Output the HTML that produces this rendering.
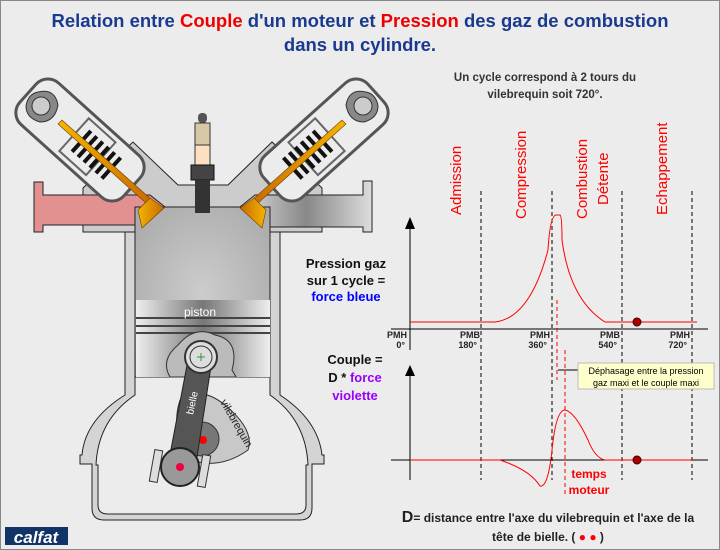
<!DOCTYPE html>
<html><head><meta charset="utf-8"><style>
body{margin:0;background:#ececec}
svg{display:block}
text{font-family:"Liberation Sans",Verdana,sans-serif}
</style></head><body>
<svg width="720" height="550" viewBox="0 0 720 550" xmlns="http://www.w3.org/2000/svg">
<defs>
<linearGradient id="pg" x1="0" x2="1"><stop offset="0" stop-color="#eee"/><stop offset=".5" stop-color="#777"/><stop offset="1" stop-color="#eee"/></linearGradient>
<radialGradient id="cyl" cx=".5" cy=".5" r=".7"><stop offset="0" stop-color="#ccc"/><stop offset="1" stop-color="#a8a8a8"/></radialGradient>
<linearGradient id="ex" x1="0" x2="1"><stop offset="0" stop-color="#ddd"/><stop offset=".5" stop-color="#888"/><stop offset="1" stop-color="#ddd"/></linearGradient>
<linearGradient id="valve" x1="0" x2="1"><stop offset="0" stop-color="#f5b400"/><stop offset="1" stop-color="#c86a00"/></linearGradient>
</defs>
<rect x="0.5" y="0.5" width="719" height="549" fill="#ececec" stroke="#888"/>

<text x="360" y="27" text-anchor="middle" font-size="18.5" font-weight="bold" fill="#1a3a90">Relation entre <tspan fill="#e00">Couple</tspan> d'un moteur et <tspan fill="#e00">Pression</tspan> des gaz de combustion</text>
<text x="360" y="51" text-anchor="middle" font-size="18.5" font-weight="bold" fill="#1a3a90">dans un cylindre.</text>

<!-- engine head -->
<polygon points="83,188 133,142 178,185 228,185 272,142 322,188 322,232 83,232" fill="#ccc" stroke="#222"/>
<path d="M34,182 L43,182 L43,195 L150,195 L165,207 L150,225 L43,225 L43,232 L34,232Z" fill="#e29090" stroke="#222"/>
<path d="M372,181 L363,181 L363,195 L255,195 L240,207 L265,227 L363,227 L363,232 L372,232Z" fill="url(#ex)" stroke="#222"/>
<path d="M125,232 L125,395 Q85,420 82,455 L80,455 L80,464 L92,464 L92,508 Q92,520 104,520 L300,520 Q312,520 312,508 L312,464 L324,464 L324,455 L322,455 Q318,420 280,395 L280,232 L265,232 L265,228 L140,228 L140,232Z" fill="#d4d4d4" stroke="#222"/>
<path d="M135,376 L135,395 Q98,420 96,465 L98,465 L98,505 Q98,514 108,514 L296,514 Q306,514 306,505 L306,465 L308,465 Q306,420 270,395 L270,376Z" fill="#ececec" stroke="#222"/>
<rect x="135" y="207" width="135" height="170" fill="url(#cyl)" stroke="#222"/>
<rect x="136" y="300" width="134" height="77" fill="url(#pg)"/>
<line x1="136" y1="318" x2="270" y2="318" stroke="#444" stroke-width="2"/>
<line x1="136" y1="326" x2="270" y2="326" stroke="#444" stroke-width="2"/>
<line x1="136" y1="333" x2="270" y2="333" stroke="#444" stroke-width="2"/>
<text x="200" y="316" text-anchor="middle" font-size="12" fill="#fff">piston</text>
<path d="M178,345 Q195,325 215,335 Q240,340 232,370 L236,377 L170,377 Q160,360 178,345Z" fill="#bbb" stroke="#333"/>
<path d="M180,400 Q200,385 225,405 Q255,430 248,450 Q220,470 190,460 Q170,430 180,400Z" fill="#c8c8c8" stroke="#333"/>
<circle cx="202" cy="439" r="17" fill="#777" stroke="#333"/>
<circle cx="203" cy="440" r="4" fill="#f00"/>
<text x="220" y="402" font-size="11" fill="#222" transform="rotate(60 220 402)">vilebrequin</text>
<polygon points="188,360 212,360 195,470 168,465" fill="#555" stroke="#222"/>
<text x="193" y="415" font-size="10" fill="#fff" transform="rotate(-78 193 415)">bielle</text>
<circle cx="201" cy="357" r="16" fill="#ddd" stroke="#333" stroke-width="2"/>
<circle cx="201" cy="357" r="11" fill="#ddd" stroke="#333"/>
<path d="M197,357 h8 M201,353 v8" stroke="#393"/>
<rect x="152" y="450" width="8" height="32" fill="#ddd" stroke="#333" transform="rotate(10 156 466)"/>
<rect x="200" y="455" width="8" height="32" fill="#ddd" stroke="#333" transform="rotate(10 204 471)"/>
<circle cx="180" cy="467" r="19" fill="#999" stroke="#222" stroke-width="2"/>
<circle cx="180" cy="467" r="4" fill="#e04"/>

<g id="vg">
<g transform="rotate(42 80 140)">
<rect x="10" y="112" width="140" height="56" rx="16" fill="#ececec" stroke="#555" stroke-width="3"/>
<rect x="72" y="118" width="36" height="44" fill="none" stroke="#666" stroke-width="2"/>
<g stroke="#111" stroke-width="4">
<line x1="82" y1="126" x2="82" y2="154"/><line x1="90" y1="126" x2="90" y2="154"/><line x1="98" y1="126" x2="98" y2="154"/><line x1="106" y1="126" x2="106" y2="154"/><line x1="114" y1="126" x2="114" y2="154"/><line x1="122" y1="126" x2="122" y2="154"/>
</g>
</g>
<path d="M38,92 Q55,88 58,105 Q55,122 40,122 Q26,118 26,106 Q28,94 38,92Z" fill="#888" stroke="#333"/>
<circle cx="41" cy="106" r="9" fill="#ccc" stroke="#333"/>
<polygon points="58,124 62,120 152,200 147,204" fill="url(#valve)" stroke="#6a4000" stroke-width=".6"/>
<polygon points="138,210 150,198 164,208 142,228" fill="url(#valve)" stroke="#6a4000" stroke-width=".6"/>
</g>
<use href="#vg" transform="translate(404,0) scale(-1,1)"/>

<rect x="198" y="113" width="9" height="10" rx="4" fill="#555"/>
<rect x="195" y="123" width="15" height="25" fill="#d8c8a8" stroke="#333"/>
<rect x="195" y="145" width="15" height="20" fill="#fde0c0" stroke="#333"/>
<rect x="191" y="165" width="23" height="15" fill="#444" stroke="#111"/>
<rect x="195" y="180" width="15" height="33" fill="#333"/>

<rect x="5" y="527" width="63" height="18" fill="#136"/>
<text x="36" y="543" text-anchor="middle" font-size="17" font-style="italic" font-weight="bold" fill="#fff">calfat</text>

<text x="545" y="81" text-anchor="middle" font-size="11.5" font-weight="bold" fill="#333">Un cycle correspond à 2 tours du</text>
<text x="545" y="98" text-anchor="middle" font-size="11.5" font-weight="bold" fill="#333">vilebrequin soit 720°.</text>
<g font-size="13" font-weight="bold" text-anchor="middle">
<text x="346" y="268" fill="#111">Pression gaz</text>
<text x="346" y="285" fill="#111">sur 1 cycle =</text>
<text x="346" y="301" fill="#00f">force bleue</text>
<text x="355" y="364" fill="#111">Couple =</text>
<text x="355" y="382" fill="#111">D * <tspan fill="#90f">force</tspan></text>
<text x="355" y="400" fill="#90f">violette</text>
</g>
<g font-size="15" fill="#f00">
<text transform="translate(461,215) rotate(-90)">Admission</text>
<text transform="translate(526,219) rotate(-90)">Compression</text>
<text transform="translate(587,219) rotate(-90)">Combustion</text>
<text transform="translate(608,205) rotate(-90)">Détente</text>
<text transform="translate(667,215) rotate(-90)">Echappement</text>
</g>

<g stroke="#000" stroke-dasharray="4,3" fill="none">
<line x1="481" y1="191" x2="481" y2="480"/><line x1="552" y1="191" x2="552" y2="480"/>
<line x1="622" y1="191" x2="622" y2="480"/><line x1="692" y1="191" x2="692" y2="480"/>
</g>
<line x1="410" y1="225" x2="410" y2="350" stroke="#000"/>
<polygon points="405,229 410,217 415,229" fill="#000"/>
<line x1="391" y1="329" x2="708" y2="329" stroke="#000"/>
<line x1="410" y1="372" x2="410" y2="480" stroke="#000"/>
<polygon points="405,376 410,365 415,376" fill="#000"/>
<line x1="391" y1="460" x2="708" y2="460" stroke="#000"/>
<path d="M410,322 L495,322 Q530,318 548,250 Q550,216 556,215 L560,215 Q562,216 562,240 Q570,300 605,322 L697,322" fill="none" stroke="#f00"/>
<path d="M410,460 L500,460 Q530,470 540,486 Q548,488 552,450 Q556,410 565,410 Q575,412 588,440 Q595,458 605,460 L693,460" fill="none" stroke="#f00"/>
<line x1="557" y1="300" x2="557" y2="380" stroke="#f00" stroke-dasharray="4,3"/>
<line x1="565" y1="350" x2="565" y2="495" stroke="#f00" stroke-dasharray="4,3"/>
<circle cx="637" cy="322" r="4" fill="#a00" stroke="#400"/>
<circle cx="637" cy="460" r="4" fill="#a00" stroke="#400"/>
<g font-size="9" font-family="Liberation Mono,monospace" font-weight="bold" fill="#222" text-anchor="end">
<text x="407" y="338">PMH</text><text x="405" y="348">0°</text>
<text x="480" y="338">PMB</text><text x="477" y="348">180°</text>
<text x="550" y="338">PMH</text><text x="547" y="348">360°</text>
<text x="620" y="338">PMB</text><text x="617" y="348">540°</text>
<text x="690" y="338">PMH</text><text x="687" y="348">720°</text>
</g>
<line x1="558" y1="370" x2="578" y2="370" stroke="#000"/>
<rect x="578" y="363" width="136" height="26" fill="#ffffcc" stroke="#bbb"/>
<text x="646" y="374" text-anchor="middle" font-size="9" fill="#000">Déphasage entre la pression</text>
<text x="646" y="386" text-anchor="middle" font-size="9" fill="#000">gaz maxi et le couple maxi</text>
<text x="589" y="478" text-anchor="middle" font-size="12" font-weight="bold" fill="#f00">temps</text>
<text x="589" y="494" text-anchor="middle" font-size="12" font-weight="bold" fill="#f00">moteur</text>

<text x="548" y="522" text-anchor="middle" font-size="12" font-weight="bold" fill="#222"><tspan font-size="16">D</tspan>= distance entre l'axe du vilebrequin et l'axe de la</text>
<text x="548" y="541" text-anchor="middle" font-size="12" font-weight="bold" fill="#222">tête de bielle. (   <tspan fill="#f00">●</tspan>   <tspan fill="#f00">●</tspan>   )</text>
</svg>
</body></html>
